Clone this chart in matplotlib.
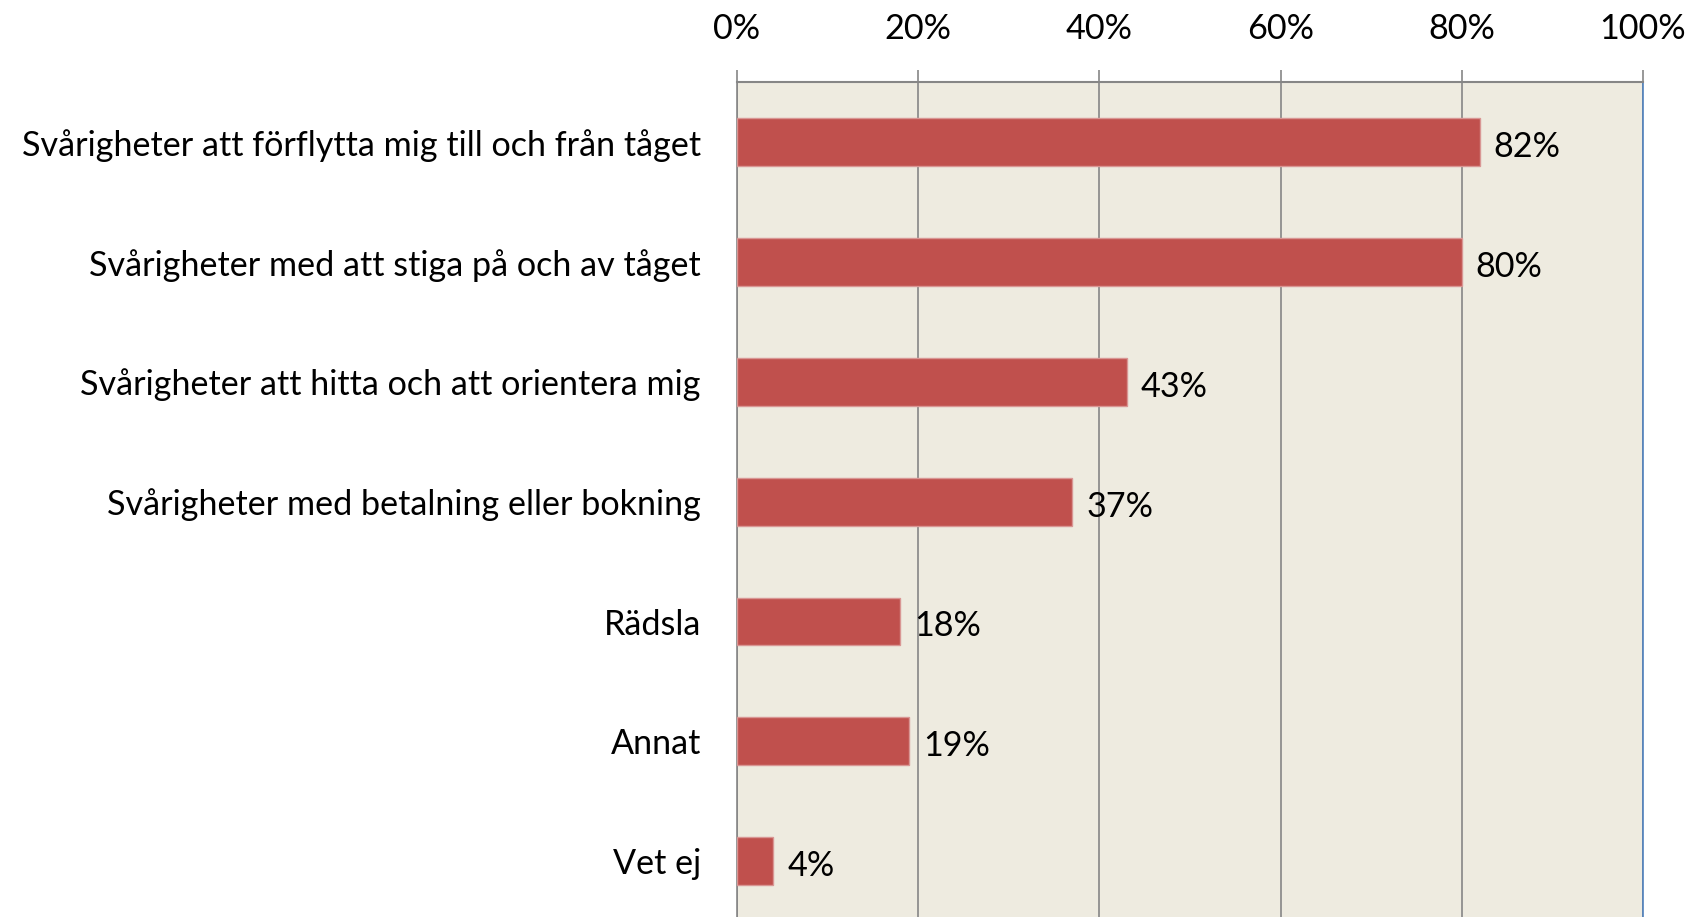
import matplotlib
matplotlib.use("Agg")
import matplotlib.pyplot as plt
from matplotlib.ticker import FixedLocator

categories = [
    "Svårigheter att förflytta mig till och från tåget",
    "Svårigheter med att stiga på och av tåget",
    "Svårigheter att hitta och att orientera mig",
    "Svårigheter med betalning eller bokning",
    "Rädsla",
    "Annat",
    "Vet ej",
]
values = [82, 80, 43, 37, 18, 19, 4]
tick_values = [0, 20, 40, 60, 80, 100]
tick_labels = ["0%", "20%", "40%", "60%", "80%", "100%"]

plt.rcParams['font.family'] = ['Lato', 'DejaVu Sans']
FS = 24.6

fig = plt.figure(figsize=(16.99, 9.17), dpi=100)
ax = fig.add_axes([0.4338, -0.0044, 0.967 - 0.4338, 0.9101 + 0.0044])
ax.set_facecolor('#EEEBE0')

y = list(range(len(categories)))
ax.barh(y, values, height=0.4, color='#C0504D', edgecolor='#D99694', linewidth=1, zorder=3)

for yi, v in zip(y, values):
    ax.annotate(f"{v}%", (v, yi), xytext=(10, -3.5), textcoords='offset points',
                va='center', ha='left', fontsize=FS, color='black', zorder=4)

ax.set_xlim(0, 100)
ax.set_ylim(len(categories) - 0.5, -0.5)
ax.set_yticks(y)
ax.set_yticklabels(categories, fontsize=FS)
ax.tick_params(axis='y', length=0, pad=26)

ax.xaxis.tick_top()
ax.xaxis.set_major_locator(FixedLocator(tick_values))
ax.set_xticklabels(tick_labels, fontsize=FS)
ax.tick_params(axis='x', length=9, width=1.2, color='#868686', pad=18)
ax.grid(axis='x', color='#868686', linewidth=1.2, zorder=1)
ax.set_axisbelow(True)

ax.spines['bottom'].set_visible(False)
ax.spines['top'].set_color('#868686')
ax.spines['top'].set_linewidth(1.5)
ax.spines['left'].set_color('#868686')
ax.spines['left'].set_linewidth(1.2)
ax.spines['right'].set_color('#4F81BD')
ax.spines['right'].set_linewidth(1.2)

fig.savefig('out.png', dpi=100)
